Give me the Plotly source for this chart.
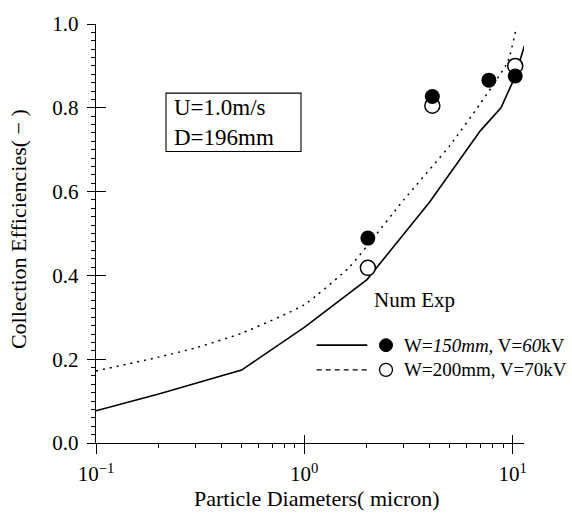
import plotly.graph_objects as go

# ---- data ----
num150_x = [0.1, 0.2, 0.5, 1.0, 2.0, 4.0, 7.0, 8.8, 10.3, 11.4]
num150_y = [0.077, 0.117, 0.174, 0.276, 0.39, 0.575, 0.745, 0.80, 0.875, 0.948]
num200_x = [0.1, 0.2, 0.3, 0.5, 1.0, 1.65, 2.0, 3.0, 5.0, 7.0, 9.5, 10.45]
num200_y = [0.172, 0.205, 0.227, 0.262, 0.33, 0.42, 0.47, 0.58, 0.71, 0.81, 0.911, 0.994]
exp150_x = [2.02, 4.12, 7.7, 10.3]
exp150_y = [0.489, 0.827, 0.866, 0.876]
exp200_x = [2.02, 4.12, 10.3]
exp200_y = [0.418, 0.805, 0.90]
x_tickvals = [0.1, 1, 10]
x_ticktext = ["10<sup>−1</sup>", "10<sup>0</sup>", "10<sup>1</sup>"]
x_minor = [0.2, 0.3, 0.4, 0.5, 0.6, 0.7, 0.8, 0.9, 2, 3, 4, 5, 6, 7, 8, 9]
y_tickvals = [0.0, 0.2, 0.4, 0.6, 0.8, 1.0]
y_ticktext = ["0.0", "0.2", "0.4", "0.6", "0.8", "1.0"]
legend_labels = ["W=<i>150mm</i>, V=<i>60</i>kV", "W=200mm, V=70kV"]
box_text = "U=1.0m/s<br>D=196mm"

FONT = "Liberation Serif"
W_, H_ = 572, 514
L, R, T, B = 96, 524, 19, 443
PW, PH = R - L, B - T


def px(x):
    return (x - L) / PW


def py(y):
    return (B - y) / PH


fig = go.Figure()

fig.add_trace(go.Scatter(x=num200_x, y=num200_y, mode="lines",
                         line=dict(color="black", width=1.5, dash="2px,5px", shape="spline", smoothing=0.5),
                         showlegend=False))
fig.add_trace(go.Scatter(x=num150_x, y=num150_y, mode="lines",
                         line=dict(color="black", width=1.6),
                         showlegend=False))
fig.add_trace(go.Scatter(x=exp200_x, y=exp200_y, mode="markers",
                         marker=dict(symbol="circle", size=15, color="white",
                                     line=dict(color="black", width=1.5)),
                         showlegend=False))
fig.add_trace(go.Scatter(x=exp150_x, y=exp150_y, mode="markers",
                         marker=dict(symbol="circle", size=15, color="black",
                                     line=dict(color="black", width=0)),
                         showlegend=False))
# invisible traces for the overlay tick axes
fig.add_trace(go.Scatter(x=[None], y=[None], xaxis="x2", yaxis="y2", showlegend=False))
fig.add_trace(go.Scatter(x=[None], y=[None], xaxis="x3", yaxis="y2", showlegend=False))

xr = [-1, 1.055]
yr = [0, 1.0]
tickfont = dict(family=FONT, size=21, color="black")

fig.update_layout(
    width=W_, height=H_,
    margin=dict(l=L, r=W_ - R, t=T, b=H_ - B),
    paper_bgcolor="white", plot_bgcolor="white",
    showlegend=False,
    xaxis=dict(type="log", range=xr, showgrid=False, zeroline=False,
               showline=True, linecolor="black", linewidth=1.4,
               tickmode="array", tickvals=x_tickvals, ticktext=x_ticktext,
               ticks="outside", ticklen=10, tickwidth=1.4, tickcolor="black",
               tickfont=tickfont, ticklabelstandoff=2),
    yaxis=dict(range=yr, showgrid=False, zeroline=False,
               showline=True, linecolor="black", linewidth=1.4,
               tickmode="array", tickvals=y_tickvals, ticktext=y_ticktext,
               ticks="outside", ticklen=8, tickwidth=1.4, tickcolor="black",
               tickfont=tickfont, ticklabelstandoff=4,
               minor=dict(dtick=0.02, tick0=0, ticks="outside", ticklen=4,
                          tickwidth=1, tickcolor="black", showgrid=False)),
    xaxis2=dict(type="log", range=xr, overlaying="x", anchor="y", side="bottom",
                showgrid=False, zeroline=False, showline=False,
                tickmode="array", tickvals=x_tickvals, showticklabels=False,
                ticks="inside", ticklen=8, tickwidth=1.4, tickcolor="black"),
    xaxis3=dict(type="log", range=xr, overlaying="x", anchor="y", side="bottom",
                showgrid=False, zeroline=False, showline=False,
                tickmode="array", tickvals=x_minor, showticklabels=False,
                ticks="outside", ticklen=4, tickwidth=1, tickcolor="black"),
    yaxis2=dict(range=yr, overlaying="y", anchor="x", side="left",
                showgrid=False, zeroline=False, showline=False,
                tickmode="array", tickvals=y_tickvals, showticklabels=False,
                ticks="inside", ticklen=10, tickwidth=1.4, tickcolor="black"),
)

shapes = []
# legend samples
shapes.append(dict(type="line", xref="paper", yref="paper",
                   x0=px(316.7), x1=px(367.3), y0=py(344), y1=py(344),
                   line=dict(color="black", width=1.6)))
shapes.append(dict(type="line", xref="paper", yref="paper",
                   x0=px(316.7), x1=px(367.3), y0=py(369), y1=py(369),
                   line=dict(color="black", width=1.4, dash="5px,4px")))
r = 6.5
shapes.append(dict(type="circle", xref="paper", yref="paper",
                   x0=px(386 - r), x1=px(386 + r), y0=py(344 + r), y1=py(344 - r),
                   fillcolor="black", line=dict(color="black", width=1)))
shapes.append(dict(type="circle", xref="paper", yref="paper",
                   x0=px(386 - r), x1=px(386 + r), y0=py(369 + r), y1=py(369 - r),
                   fillcolor="white", line=dict(color="black", width=1.3)))
# condition box
shapes.append(dict(type="rect", xref="paper", yref="paper",
                   x0=px(166), x1=px(301), y0=py(148), y1=py(89),
                   line=dict(color="black", width=1.1)))
fig.update_layout(shapes=shapes)

ann = []
ann.append(dict(text=legend_labels[0], xref="paper", yref="paper",
                x=px(401.7), y=py(344), xanchor="left", yanchor="middle",
                showarrow=False, font=dict(family=FONT, size=19, color="black")))
ann.append(dict(text=legend_labels[1], xref="paper", yref="paper",
                x=px(401.7), y=py(369), xanchor="left", yanchor="middle",
                showarrow=False, font=dict(family=FONT, size=19, color="black")))
ann.append(dict(text="Num Exp", xref="paper", yref="paper",
                x=px(371.7), y=py(298), xanchor="left", yanchor="middle",
                showarrow=False, font=dict(family=FONT, size=21, color="black")))
ann.append(dict(text=box_text, xref="paper", yref="paper",
                x=px(172), y=py(118.5), xanchor="left", yanchor="middle", align="left",
                showarrow=False, font=dict(family=FONT, size=23, color="black")))
ann.append(dict(text="Particle Diameters( micron)", xref="paper", yref="paper",
                x=px(316.5), y=py(499), xanchor="center", yanchor="middle",
                showarrow=False, font=dict(family=FONT, size=22, color="black")))
ann.append(dict(text="Collection Efficiencies( − )", xref="paper", yref="paper",
                x=px(18), y=py(226.5), xanchor="center", yanchor="middle", textangle=-90,
                showarrow=False, font=dict(family=FONT, size=22, color="black")))
fig.update_layout(annotations=ann)

fig.write_html("out.html", config={"displayModeBar": False},
               post_script="document.body.style.margin='0';")
